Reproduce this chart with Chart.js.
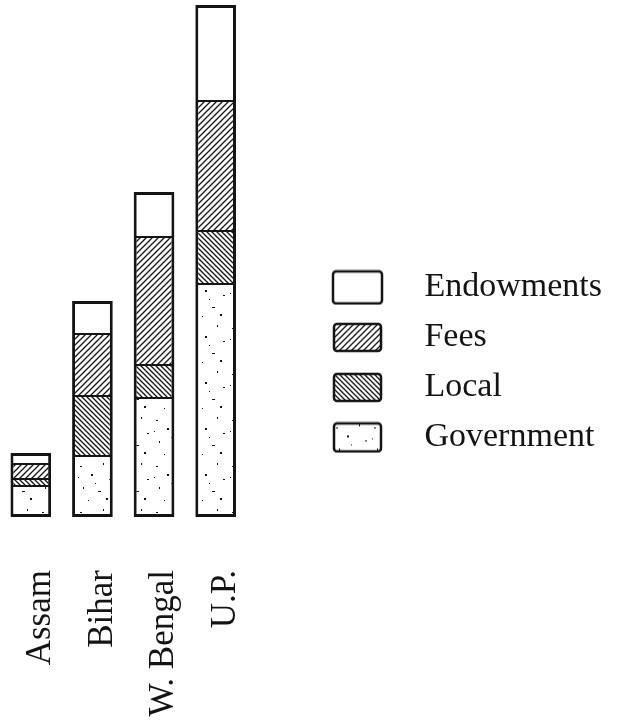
<!DOCTYPE html>
<html>
<head>
<meta charset="utf-8">
<script src="https://cdn.jsdelivr.net/npm/chart.js@4"></script>
<style>
  html, body { margin: 0; padding: 0; background: #fff; }
  #wrap { width: 619px; height: 726px; }
</style>
</head>
<body>
<div id="wrap"><canvas id="sourcesChart"></canvas></div>
<script>
// Sources of income by state (stacked, bottom to top)
const states = ['Assam', 'Bihar', 'W. Bengal', 'U.P.'];
const government = [32, 62, 120, 234];
const local = [7, 60, 33, 53];
const fees = [15, 62, 128, 130];
const endowments = [10, 32, 44, 95];
const yMax = 517;

const INK = '#141414';
const SERIF = "'Liberation Serif', 'DejaVu Serif', serif";

// small repeating tiles for the fills
function tile(w, h, paint) {
    const c = document.createElement('canvas');
    c.width = w;
    c.height = h;
    const g = c.getContext('2d');
    g.fillStyle = '#fff';
    g.fillRect(0, 0, w, h);
    paint(g, w, h);
    return c;
}

function hatchTile(step, forward) {
    return tile(step, step, (g, s) => {
        g.strokeStyle = INK;
        g.lineWidth = 1.3;
        g.beginPath();
        for (let k = -1; k <= 1; k++) {
            const x0 = k * s;
            if (forward) {
                g.moveTo(x0 - 1, s + 1);
                g.lineTo(x0 + s + 1, -1);
            } else {
                g.moveTo(x0 - 1, -1);
                g.lineTo(x0 + s + 1, s + 1);
            }
        }
        g.stroke();
    });
}

// sparse specks for the government fill
const specks = [
    [4, 6, 2, 1], [27, 3, 1, 2], [15, 14, 2, 2], [33, 19, 2, 1],
    [7, 27, 1, 2], [22, 31, 3, 1], [12, 40, 1, 1], [30, 38, 2, 2],
    [2, 17, 1, 1], [19, 23, 1, 1]
];
const speckTile = tile(38, 46, g => {
    g.fillStyle = INK;
    specks.forEach(([x, y, w, h]) => g.fillRect(x, y, w, h));
});

const tiles = [speckTile, hatchTile(5, false), hatchTile(6, true), null];

const canvas = document.getElementById('sourcesChart');
const ctx = canvas.getContext('2d');
const fills = tiles.map(t => t ? ctx.createPattern(t, 'repeat') : '#fff');

// legend swatches
function swatch(t, w, h) {
    const c = document.createElement('canvas');
    c.width = w + 4;
    c.height = h + 4;
    const g = c.getContext('2d');
    g.fillStyle = t ? g.createPattern(t, 'repeat') : '#fff';
    g.beginPath();
    g.roundRect(2, 2, w, h, 3);
    g.fill();
    g.strokeStyle = INK;
    g.lineWidth = 2.5;
    g.stroke();
    return c;
}
const swatches = [
    swatch(tiles[0], 47, 28),
    swatch(tiles[1], 47, 27),
    swatch(tiles[2], 47, 27),
    swatch(tiles[3], 49, 32)
];

const edge = { left: 3, right: 3, top: 2, bottom: 0 };

new Chart(canvas, {
    type: 'bar',
    data: {
        labels: states,
        datasets: [
            {
                label: 'Government',
                data: government,
                backgroundColor: fills[0],
                borderColor: INK,
                borderWidth: { left: 3, right: 3, top: 2, bottom: 3 },
                borderSkipped: false
            },
            {
                label: 'Local',
                data: local,
                backgroundColor: fills[1],
                borderColor: INK,
                borderWidth: edge
            },
            {
                label: 'Fees',
                data: fees,
                backgroundColor: fills[2],
                borderColor: INK,
                borderWidth: edge
            },
            {
                label: 'Endowments',
                data: endowments,
                backgroundColor: fills[3],
                borderColor: INK,
                borderWidth: { left: 3, right: 3, top: 3, bottom: 0 }
            }
        ]
    },
    options: {
        responsive: true,
        maintainAspectRatio: false,
        animation: false,
        layout: { padding: { left: 0, top: 0, bottom: 0, right: 7 } },
        datasets: {
            bar: { barPercentage: 0.66, categoryPercentage: 1 }
        },
        scales: {
            x: {
                stacked: true,
                grid: { display: false, drawTicks: false },
                border: { display: false },
                ticks: {
                    color: INK,
                    font: { family: SERIF, size: 35 },
                    minRotation: 90,
                    maxRotation: 90,
                    padding: 53,
                    labelOffset: 10,
                    autoSkip: false
                },
                afterFit(scale) {
                    scale.height = 209;
                    scale.paddingLeft = 0;
                    scale.paddingRight = 0;
                }
            },
            y: {
                stacked: true,
                position: 'right',
                min: 0,
                max: yMax,
                grid: { display: false, drawTicks: false },
                border: { display: false },
                ticks: { display: false },
                afterFit(scale) { scale.width = 45; }
            }
        },
        plugins: {
            tooltip: { enabled: false },
            legend: {
                position: 'right',
                align: 'start',
                reverse: true,
                maxWidth: 400,
                title: { display: true, text: '', padding: { top: 240, bottom: 0 } },
                labels: {
                    usePointStyle: true,
                    pointStyleWidth: 100,
                    padding: 16,
                    color: INK,
                    font: { family: SERIF, size: 34 },
                    generateLabels(chart) {
                        const items = Chart.defaults.plugins.legend.labels.generateLabels(chart);
                        items.forEach(item => { item.pointStyle = swatches[item.datasetIndex]; });
                        return items;
                    }
                }
            }
        }
    }
});
</script>
</body>
</html>
